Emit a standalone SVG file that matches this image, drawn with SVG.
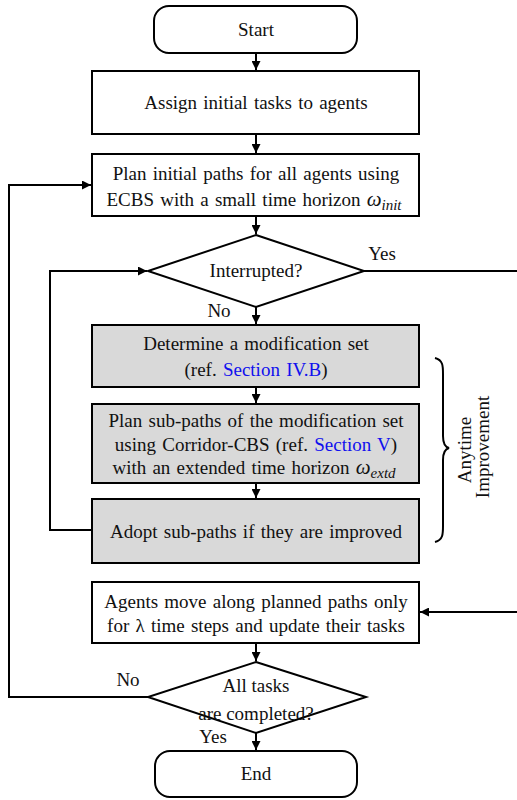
<svg xmlns="http://www.w3.org/2000/svg" width="517" height="800" viewBox="0 0 517 800">
<style>
.box{fill:#fff;stroke:#000;stroke-width:2}
.gray{fill:#d9d9d9;stroke:#000;stroke-width:2}
.t{font-size:19px;fill:#111;text-anchor:middle}
.w{word-spacing:1.5px}
.m{font-style:italic}
.blue{fill:#1010ee}
.c{fill:none;stroke:#000;stroke-width:2}
</style>
<defs>
<marker id="ah" viewBox="0 0 10 10" refX="10" refY="5" markerWidth="4.5" markerHeight="4.5" orient="auto" markerUnits="strokeWidth">
<path d="M0,0 L10,5 L0,10 z" fill="#000"/>
</marker>
</defs>
<rect width="517" height="800" fill="#fff"/>
<g id="connectors">
<path class="c" d="M256,53 V70" marker-end="url(#ah)"/>
<path class="c" d="M256,134 V153" marker-end="url(#ah)"/>
<path class="c" d="M256,216 V234" marker-end="url(#ah)"/>
<path class="c" d="M256,307 V324" marker-end="url(#ah)"/>
<path class="c" d="M256,387 V403" marker-end="url(#ah)"/>
<path class="c" d="M256,483 V498" marker-end="url(#ah)"/>
<path class="c" d="M256,643 V661" marker-end="url(#ah)"/>
<path class="c" d="M256,733 V750" marker-end="url(#ah)"/>
<path class="c" d="M92,530 H50 V271 H147" marker-end="url(#ah)"/>
<path class="c" d="M148,697 H9 V185 H91" marker-end="url(#ah)"/>
<path class="c" d="M363,271 H522 V612 H420" marker-end="url(#ah)"/>
<path class="c" d="M435,358 C443,360 443,366 443,374 V436 C443,443 445,447 449,448 C445,449 443,453 443,460 V526 C443,534 443,540 435,542" stroke-width="1.6"/>
</g>
<g font-family="Liberation Serif, Times New Roman, serif">
<g id="start">
<rect class="box" x="154" y="6" width="203" height="47" rx="15"/>
<text class="t" x="256" y="36">Start</text>
</g>
<g id="assign">
<rect class="box" x="92" y="71" width="327" height="63"/>
<text class="t w" x="256" y="109">Assign initial tasks to agents</text>
</g>
<g id="plan-initial">
<rect class="box" x="92" y="154" width="327" height="62"/>
<text class="t w" x="256" y="180">Plan initial paths for all agents using</text>
<text class="t w" x="254" y="206">ECBS with a small time horizon <tspan class="m" font-size="21">ω</tspan><tspan class="m" font-size="15" dy="4">init</tspan></text>
</g>
<g id="interrupted">
<polygon class="box" points="256,235 364,271 256,307 148,271"/>
<text class="t" x="256" y="277">Interrupted?</text>
<text class="t" x="382" y="260">Yes</text>
<text class="t" x="219" y="317">No</text>
</g>
<g id="determine">
<rect class="gray" x="92" y="325" width="327" height="62"/>
<text class="t w" x="256" y="350">Determine a modification set</text>
<text class="t w" x="256" y="376">(ref. <tspan class="blue">Section IV.B</tspan>)</text>
</g>
<g id="plan-sub">
<rect class="gray" x="92" y="404" width="327" height="79"/>
<text class="t w" x="256" y="427">Plan sub-paths of the modification set</text>
<text class="t w" x="256" y="451">using Corridor-CBS (ref. <tspan class="blue">Section V</tspan>)</text>
<text class="t w" x="254" y="474">with an extended time horizon <tspan class="m" font-size="21">ω</tspan><tspan class="m" font-size="15" dy="4">extd</tspan></text>
</g>
<g id="adopt">
<rect class="gray" x="92" y="499" width="327" height="64"/>
<text class="t w" x="256" y="538">Adopt sub-paths if they are improved</text>
</g>
<g id="brace-label">
<text class="t" transform="translate(471,450) rotate(-90)">Anytime</text>
<text class="t" transform="translate(489,447) rotate(-90)">Improvement</text>
</g>
<g id="agents-move">
<rect class="box" x="92" y="582" width="327" height="61"/>
<text class="t w" x="256" y="608">Agents move along planned paths only</text>
<text class="t w" x="256" y="632">for λ time steps and update their tasks</text>
</g>
<g id="all-completed">
<polygon class="box" points="256,662 366,697 256,733 148,697"/>
<text class="t" x="256" y="692">All tasks</text>
<text class="t" x="256" y="720">are completed?</text>
<text class="t" x="128" y="686">No</text>
<text class="t" x="213" y="743">Yes</text>
</g>
<g id="end">
<rect class="box" x="155" y="751" width="202" height="46" rx="15"/>
<text class="t" x="256" y="780">End</text>
</g>
</g>
</svg>
